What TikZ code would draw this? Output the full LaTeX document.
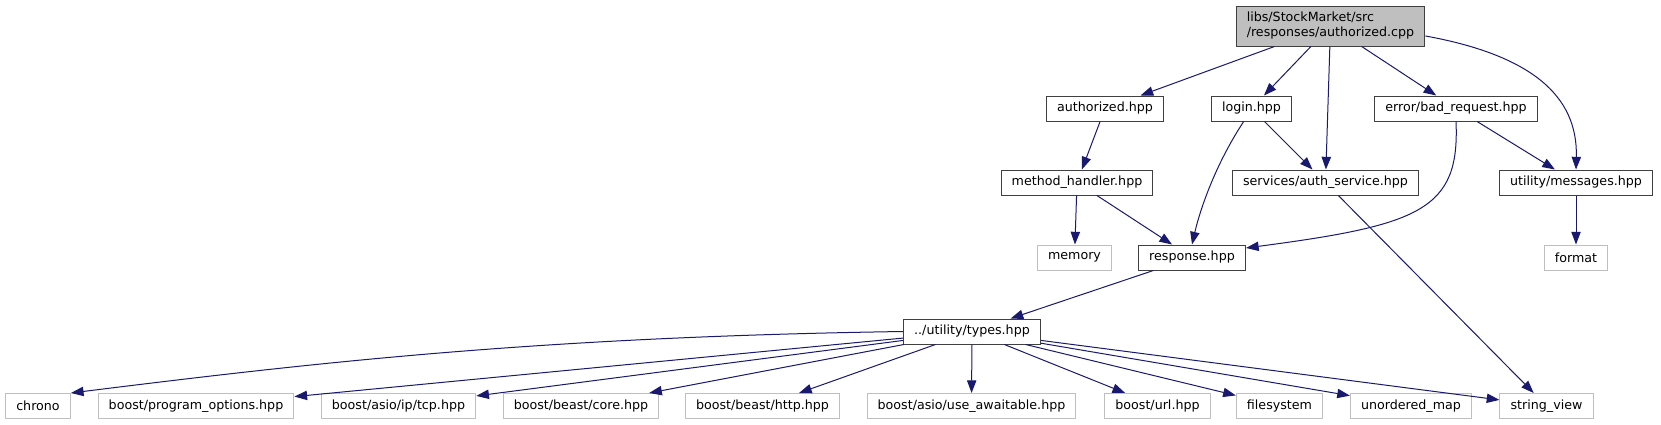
\documentclass[tikz,border=0pt]{standalone}
\usepackage{fontspec}
\setmainfont{DejaVu Sans}
\usetikzlibrary{arrows.meta}
\definecolor{edgeblue}{HTML}{191970}
\definecolor{boxgray}{HTML}{BFBFBF}
\definecolor{boxline}{HTML}{404040}

\begin{document}
\begin{tikzpicture}[x=0.75pt,y=-0.75pt,
  file/.style={draw=boxline,fill=white,line width=0.75pt,inner xsep=8pt,inner ysep=0pt,
    minimum height=18.75pt,font=\fontsize{9.5}{11.25}\selectfont},
  sys/.style={file,draw=boxgray},
  dep/.style={draw=edgeblue,line width=0.75pt,-{Triangle[length=9.5pt,width=7pt]}}]
  \useasboundingbox (0,0) rectangle (1661,425);
  % the file itself
  \node[file,fill=boxgray,align=left,minimum height=30pt] (main) at (1330.5,26) {libs/StockMarket/src\\/responses/authorized.cpp};
  % direct includes
  \node[file] (authhpp) at (1105,108.5) {authorized.hpp};
  \node[file] (login) at (1251.5,108.5) {login.hpp};
  \node[file] (badreq) at (1456,108.5) {error/bad\_request.hpp};
  \node[file] (handler) at (1077,182.5) {method\_handler.hpp};
  \node[file] (authsvc) at (1325.5,182.5) {services/auth\_service.hpp};
  \node[file] (messages) at (1576,182.5) {utility/messages.hpp};
  \node[sys] (memory) at (1074.5,257.5) {memory};
  \node[file] (response) at (1192,257.5) {response.hpp};
  \node[sys] (format) at (1576,257.5) {format};
  \node[file] (types) at (972,331.5) {../utility/types.hpp};
  % system headers
  \node[sys] (chrono) at (38,406) {chrono};
  \node[sys] (progopt) at (196,406) {boost/program\_options.hpp};
  \node[sys] (tcp) at (398.5,406) {boost/asio/ip/tcp.hpp};
  \node[sys] (core) at (581,406) {boost/beast/core.hpp};
  \node[sys] (http) at (762.5,406) {boost/beast/http.hpp};
  \node[sys] (awaitable) at (971.5,406) {boost/asio/use\_awaitable.hpp};
  \node[sys] (url) at (1157.5,406) {boost/url.hpp};
  \node[sys] (filesys) at (1279.5,406) {filesystem};
  \node[sys] (umap) at (1411,406) {unordered\_map};
  \node[sys] (strview) at (1546.5,406) {string\_view};

  \draw[dep] (main) -- (authhpp);
  \draw[dep] (main) -- (login);
  \draw[dep] (main) -- (authsvc);
  \draw[dep] (main) -- (badreq);
  \draw[dep] (main.-6.5) .. controls (1530,55) and (1578,95) .. (messages.north);
  \draw[dep] (authhpp) -- (handler);
  \draw[dep] (login) -- (authsvc);
  \draw[dep] (login.-121) .. controls (1215,165) and (1200,210) .. (response.north);
  \draw[dep] (badreq) -- (messages);
  \draw[dep] (badreq.south) .. controls (1460,210) and (1420,225) .. (response.10);
  \draw[dep] (authsvc) -- (strview);
  \draw[dep] (handler) -- (memory);
  \draw[dep] (handler) -- (response);
  \draw[dep] (messages) -- (format);
  \draw[dep] (response) -- (types);
  \draw[dep] (types.west) .. controls (540,337) and (320,362) .. (chrono.north east);
  \foreach \n in {progopt,tcp,core,http,awaitable,url,filesys,umap,strview}
    \draw[dep] (types) -- (\n);
\end{tikzpicture}
\end{document}
